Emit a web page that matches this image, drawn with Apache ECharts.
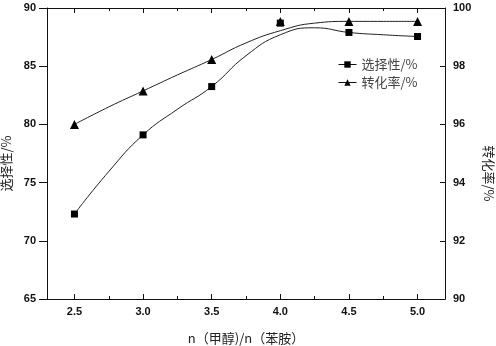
<!DOCTYPE html>
<html><head><meta charset="utf-8">
<script src="https://cdn.jsdelivr.net/npm/echarts@6/dist/echarts.min.js"></script>
<style>html,body{margin:0;padding:0;background:#fff}#c{width:496px;height:346px}</style>
</head><body><div id="c"></div>
<script>
const ratio = [2.5, 3.0, 3.5, 4.0, 4.5, 5.0];
const selectivity = [72.3, 79.1, 83.25, 88.7, 87.9, 87.55];
const conversion = [96.0, 97.15, 98.23, 99.54, 99.54, 99.54];
const curveX = [2.5, 2.75, 3.0, 3.25, 3.5, 3.75, 4.0, 4.25, 4.5, 4.75, 5.0];
const selectivityCurve = [72.3, 75.95, 79.1, 81.3, 83.25, 85.9, 87.7, 88.3, 87.9, 87.7, 87.55];
const conversionCurve = [96.0, 96.6, 97.15, 97.7, 98.23, 98.8, 99.22, 99.48, 99.54, 99.54, 99.54];
const xMajor = [2.5, 3.0, 3.5, 4.0, 4.5, 5.0];
const xMinor = [2.75, 3.25, 3.75, 4.25, 4.75];

const zip = (xs, ys) => xs.map((x, i) => [x, ys[i]]);
const tickFont = {fontFamily: 'Liberation Sans, Arial, sans-serif', fontWeight: 'bold', fontSize: 11, color: '#111'};
const nameFont = {fontFamily: 'Noto Sans CJK SC, sans-serif', fontSize: 13, color: '#222'};
const axLine = {show: true, lineStyle: {color: '#111', width: 1}};

function xAx(pos, vals, len, extra) {
  return Object.assign({
    type: 'value', min: 2.3, max: 5.2, position: pos,
    axisLine: axLine, splitLine: {show: false},
    axisTick: {show: true, inside: true, length: len, customValues: vals, lineStyle: {color: '#111'}},
    axisLabel: {show: false}
  }, extra || {});
}

const chart = echarts.init(document.getElementById('c'));
chart.setOption({
  animation: false,
  backgroundColor: '#fff',
  grid: {left: 47, right: 51, top: 8, bottom: 47, containLabel: false, outerBoundsMode: 'none'},
  legend: {
    orient: 'vertical', left: 333, top: 53, itemWidth: 18, itemHeight: 8, itemGap: 5,
    data: ['选择性/%', '转化率/%'],
    textStyle: {fontFamily: 'Noto Sans CJK SC, sans-serif', fontSize: 13, color: '#444'},
    lineStyle: {width: 1, color: '#111'}
  },
  xAxis: [
    xAx('bottom', xMajor, 5, {
      axisLabel: Object.assign({show: true, customValues: xMajor, margin: 7, formatter: v => v.toFixed(1)}, tickFont),
      name: 'n（甲醇)/n（苯胺）', nameLocation: 'middle', nameGap: 33, nameTextStyle: nameFont
    }),
    xAx('bottom', xMinor, 3),
    xAx('top', xMajor, 5),
    xAx('top', xMinor, 3)
  ],
  yAxis: [
    {
      type: 'value', min: 65, max: 90, interval: 5, position: 'left',
      axisLine: axLine, splitLine: {show: false},
      axisTick: {show: true, inside: false, length: 8, lineStyle: {color: '#111'}},
      axisLabel: Object.assign({margin: 11}, tickFont),
      name: '选择性/%', nameLocation: 'middle', nameGap: 30, nameRotate: 90,
      nameTextStyle: Object.assign({padding: [0, 20, 0, 0]}, nameFont)
    },
    {
      type: 'value', min: 90, max: 100, interval: 2, position: 'right',
      axisLine: axLine, splitLine: {show: false},
      axisTick: {show: true, inside: true, length: 5, lineStyle: {color: '#111'}},
      axisLabel: Object.assign({margin: 8}, tickFont),
      name: '转化率/%', nameLocation: 'middle', nameGap: 36, nameRotate: -90,
      nameTextStyle: Object.assign({padding: [0, 0, 0, 40]}, nameFont)
    }
  ],
  series: [
    {type: 'line', name: 'selCurve', data: zip(curveX, selectivityCurve), smooth: true, symbol: 'none',
     lineStyle: {color: '#222', width: 1}, z: 2},
    {type: 'line', name: 'convCurve', yAxisIndex: 1, data: zip(curveX, conversionCurve), smooth: true, symbol: 'none',
     lineStyle: {color: '#222', width: 1}, z: 2},
    {type: 'line', name: '选择性/%', data: zip(ratio, selectivity), symbol: 'rect', symbolSize: 7,
     itemStyle: {color: '#000'}, lineStyle: {width: 0, color: '#000'}, z: 3},
    {type: 'line', name: '转化率/%', yAxisIndex: 1, data: zip(ratio, conversion), symbol: 'triangle', symbolSize: 9,
     itemStyle: {color: '#000'}, lineStyle: {width: 0, color: '#000'}, z: 4}
  ]
});
</script></body></html>
